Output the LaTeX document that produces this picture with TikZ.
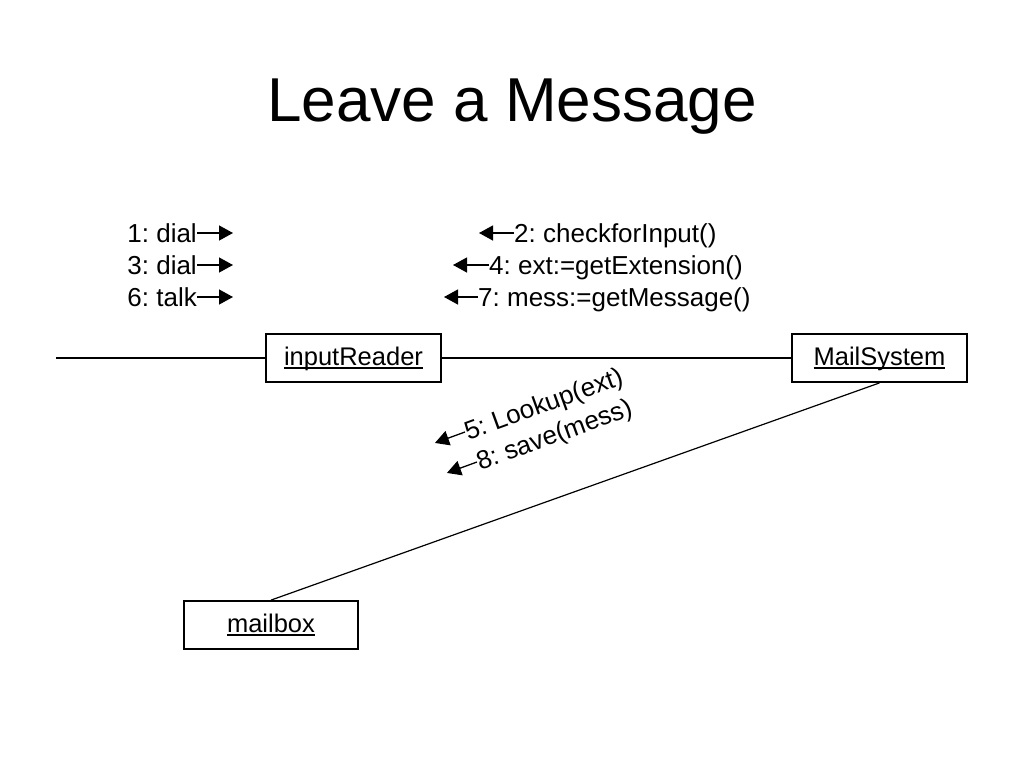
\documentclass[tikz,border=0pt]{standalone}
\usepackage{fontspec}
\setmainfont{Liberation Sans}
\usetikzlibrary{arrows.meta,calc}
\newcommand\myul[1]{\setbox0\hbox{#1}\rlap{\rule[-3.8pt]{\wd0}{1.4pt}}\box0}
\begin{document}
\frenchspacing
\begin{tikzpicture}[x=1pt,y=-1pt,
  obj/.style={draw,line width=1.8pt,minimum width=175pt,minimum height=48pt,inner sep=0pt,text height=21pt,text depth=7pt,font=\fontsize{25.5}{30}\selectfont},
  lbl/.style={inner sep=0pt,text height=18.5pt,text depth=0pt,font=\fontsize{26}{30}\selectfont},
  msgarrow/.style={line width=1.3pt,-{Triangle[length=14pt,width=15pt]}},
  link/.style={line width=1.2pt}]
\useasboundingbox (0,0) rectangle (1024,768);
\node[anchor=base,font=\fontsize{62}{70}\selectfont] (title) at (512,121) {Leave a Message};
\node[obj] (ir) at (353.5,358) {\myul{inputReader}};
\node[obj] (ms) at (879.5,358) {\myul{MailSystem}};
\node[obj,minimum width=174pt] (mb) at (271,625) {\myul{mailbox}};
\coordinate (lend) at (56,358);
\draw[link] (lend) -- (ir.west);
\draw[link] (ir.east) -- (ms.west);
\draw[link] (ms.south) -- (mb.north);
% left messages
\node[lbl,anchor=east] (m1) at (197,233) {1: dial};
\node[lbl,anchor=east] (m3) at (197,265) {3: dial};
\node[lbl,anchor=east] (m6) at (197,297) {6: talk};
\draw[msgarrow] (m1.east) -- ++(36,0);
\draw[msgarrow] (m3.east) -- ++(36,0);
\draw[msgarrow] (m6.east) -- ++(36,0);
% right messages
\node[lbl,anchor=west] (m2) at (514,233) {2: checkforInput()};
\node[lbl,anchor=west] (m4) at (489,265) {4: ext:=getExtension()};
\node[lbl,anchor=west] (m7) at (478,297) {7: mess:=getMessage()};
\draw[msgarrow] (m2.west) -- ++(-35,0);
\draw[msgarrow] (m4.west) -- ++(-36,0);
\draw[msgarrow] (m7.west) -- ++(-34,0);
% diagonal messages
\node[lbl,anchor=west,rotate=20] (m5) at (465,432) {5: Lookup(ext)};
\node[lbl,anchor=west,rotate=20] (m8) at (477,462) {8: save(mess)};
\draw[msgarrow] (m5.west) -- ($(m5.west)+(200:32pt)$);
\draw[msgarrow] (m8.west) -- ($(m8.west)+(200:32pt)$);
\end{tikzpicture}
\end{document}
